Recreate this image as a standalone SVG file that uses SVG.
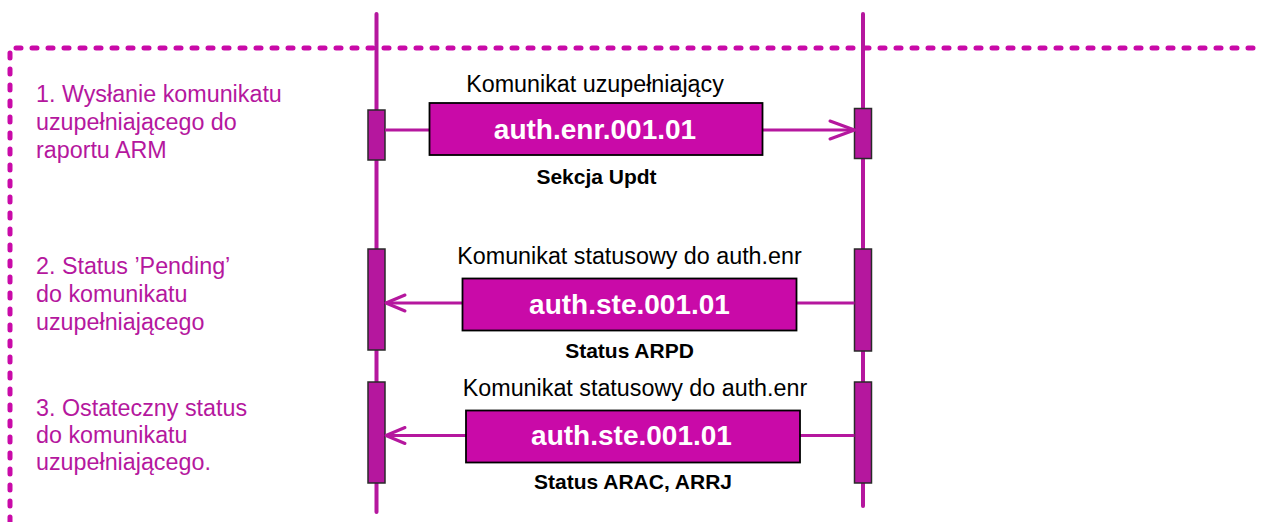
<svg xmlns="http://www.w3.org/2000/svg" width="1261" height="522" viewBox="0 0 1261 522">
<defs>
<style>
.border{fill:none;stroke:#C90AA8;stroke-width:5;stroke-dasharray:5 11;stroke-linecap:round}
.life{stroke:#B5179E;stroke-width:4;stroke-linecap:round;fill:none}
.act{fill:#B5179E;stroke:#2a2a2a;stroke-width:1.5}
.msg{fill:#C90AA8;stroke:#000;stroke-width:1.8}
.conn{stroke:#B5179E;stroke-width:3;fill:none}
.head{stroke:#B5179E;stroke-width:3;fill:none;stroke-linecap:round;stroke-linejoin:round}
.step{font-family:"Liberation Sans",Arial,sans-serif;font-size:23.3px;fill:#B5179E}
.lbl{font-family:"Liberation Sans",Arial,sans-serif;font-size:23.3px;fill:#000;text-anchor:middle}
.code{font-family:"Liberation Sans",Arial,sans-serif;font-size:28px;font-weight:bold;fill:#fff;text-anchor:middle}
.sub{font-family:"Liberation Sans",Arial,sans-serif;font-size:21px;font-weight:bold;fill:#000;text-anchor:middle}
</style>
</defs>
<rect width="1261" height="522" fill="#fff"/>
<path class="border" d="M10,522 L10,48 L1261,48"/>

<g id="steps">
<text class="step" x="36" y="102">1. Wysłanie komunikatu</text>
<text class="step" x="36" y="130">uzupełniającego do</text>
<text class="step" x="36" y="158">raportu ARM</text>
<text class="step" x="36" y="274">2. Status ’Pending’</text>
<text class="step" x="36" y="302">do komunikatu</text>
<text class="step" x="36" y="329.5">uzupełniającego</text>
<text class="step" x="36" y="415.5">3. Ostateczny status</text>
<text class="step" x="36" y="443">do komunikatu</text>
<text class="step" x="36" y="470">uzupełniającego.</text>
</g>

<g id="lifeline-left">
<line class="life" x1="376.5" y1="14" x2="376.5" y2="512"/>
<rect class="act" x="368" y="110" width="17" height="50"/>
<rect class="act" x="368" y="249" width="17" height="101"/>
<rect class="act" x="368" y="382" width="17" height="101"/>
</g>

<g id="lifeline-right">
<line class="life" x1="863" y1="14" x2="863" y2="506"/>
<rect class="act" x="854.5" y="108.5" width="17" height="50"/>
<rect class="act" x="854.5" y="249" width="17" height="102"/>
<rect class="act" x="854.5" y="382" width="17" height="101"/>
</g>

<g id="connectors">
<line class="conn" x1="385" y1="130" x2="429.5" y2="130"/>
<line class="conn" x1="762.5" y1="130" x2="854.5" y2="130"/>
<polyline class="head" points="830,121 854.5,130 830,139"/>
<line class="conn" x1="854.5" y1="303" x2="796.5" y2="303"/>
<line class="conn" x1="462.5" y1="303" x2="386" y2="303"/>
<polyline class="head" points="405,295 386,303 405,311"/>
<line class="conn" x1="854.5" y1="435.5" x2="800" y2="435.5"/>
<line class="conn" x1="466" y1="435.5" x2="386" y2="435.5"/>
<polyline class="head" points="405,427.5 386,435.5 405,443.5"/>
</g>

<g id="msg1">
<text class="lbl" x="595" y="92">Komunikat uzupełniający</text>
<rect class="msg" x="429.5" y="103" width="333" height="52"/>
<text class="code" x="595" y="138.5">auth.enr.001.01</text>
<text class="sub" x="596.5" y="184">Sekcja Updt</text>
</g>

<g id="msg2">
<text class="lbl" x="629.5" y="263.5">Komunikat statusowy do auth.enr</text>
<rect class="msg" x="462.5" y="278.5" width="334" height="52"/>
<text class="code" x="629.5" y="313.5">auth.ste.001.01</text>
<text class="sub" x="629.5" y="358">Status ARPD</text>
</g>

<g id="msg3">
<text class="lbl" x="635" y="396">Komunikat statusowy do auth.enr</text>
<rect class="msg" x="466" y="410.5" width="334" height="52"/>
<text class="code" x="631.5" y="444.5">auth.ste.001.01</text>
<text class="sub" x="633" y="489">Status ARAC, ARRJ</text>
</g>
</svg>
